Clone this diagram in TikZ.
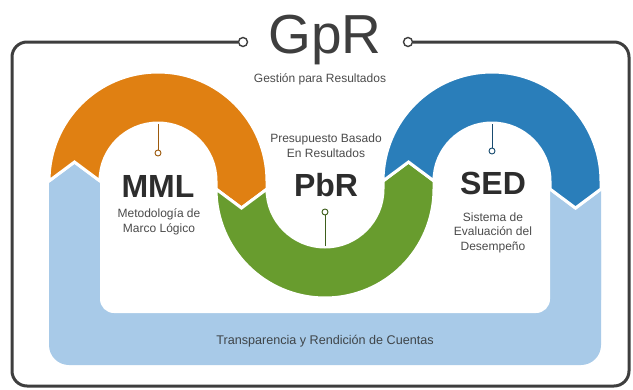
\documentclass[tikz,border=0pt]{standalone}
\usepackage{fontspec}
\setmainfont{Liberation Sans}
\definecolor{mmlorange}{RGB}{224,128,18}
\definecolor{pbrgreen}{RGB}{104,156,46}
\definecolor{sedblue}{RGB}{42,126,186}
\definecolor{bandblue}{RGB}{168,202,232}
\definecolor{framegray}{RGB}{62,62,62}
\definecolor{textgray}{RGB}{45,45,45}
\definecolor{subgray}{RGB}{75,75,75}
\begin{document}
\begin{tikzpicture}[x=1pt,y=-1pt,
    segment/.style={draw=white,line width=3pt,line join=miter},
    frame/.style={draw=framegray,line width=3pt},
    ring/.style={circle,draw=framegray,fill=white,line width=1.4pt,minimum size=9pt,inner sep=0pt},
    dot/.style={circle,draw,fill=white,line width=0.9pt,minimum size=6pt,inner sep=0pt},
    pin/.style={line width=1pt},
    big/.style={font=\fontsize{32}{32}\selectfont\bfseries,text=textgray,inner sep=0pt,anchor=base},
    small/.style={font=\fontsize{12}{12}\selectfont,text=subgray,inner sep=0pt,anchor=base}]
    \useasboundingbox (0,0) rectangle (633,389);

    % outer frame with title
    \node[font=\fontsize{55}{55}\selectfont,text=framegray,inner sep=0pt,anchor=base] (gpr) at (325,53) {GpR};
    \node[small] (gprsub) at (320,82) {Gestión para Resultados};
    \node[ring] (lring) at (243,42) {};
    \node[ring] (rring) at (408,42) {};
    \draw[frame,rounded corners=15] (lring.west) -- (12,42) -- (12,386) -- (629,386) -- (629,42) -- (rring.east);

    % light blue band
    \fill[bandblue] (49,181) -- (74.5,162) -- (100,181) -- (550,189) -- (575.5,208) -- (601,189) -- (601,300) -- (49,300) -- cycle;
    \fill[bandblue,rounded corners=20] (49,220) rectangle (601,365);
    \fill[white,rounded corners=14] (100,100) rectangle (550,313);
    \draw[white,line width=3pt] (49,181) -- (74.5,162) -- (100,181);
    \draw[white,line width=3pt] (550,189) -- (575.5,208) -- (601,189);
    \node[small,font=\fontsize{12.6}{12.6}\selectfont,text=textgray!85!bandblue] (trc) at (325,344) {Transparencia y Rendición de Cuentas};

    % MML arc
    \filldraw[segment,fill=mmlorange] (49,181) arc[start angle=180,end angle=360,radius=109]
        -- (267,189) -- (241.5,208) -- (216,189) -- (216,181)
        arc[start angle=0,end angle=-180,radius=58] -- (74.5,162) -- cycle;
    % PbR arc
    \filldraw[segment,fill=pbrgreen] (216,189) -- (241.5,208) -- (267,189)
        arc[start angle=180,end angle=0,radius=58]
        -- (383,181) -- (408.5,162) -- (434,181) -- (434,189)
        arc[start angle=0,end angle=180,radius=109] -- cycle;
    % SED arc
    \filldraw[segment,fill=sedblue] (383,181) arc[start angle=180,end angle=360,radius=109]
        -- (601,189) -- (575.5,208) -- (550,189) -- (550,181)
        arc[start angle=0,end angle=-180,radius=58] -- (408.5,162) -- cycle;

    % pins
    \coordinate (mmltop) at (158,124);
    \coordinate (pbrbot) at (325,246);
    \coordinate (sedtop) at (492,124);
    \node[dot,draw=mmlorange!70!black] (mmldot) at (158,153) {};
    \node[dot,draw=pbrgreen!60!black] (pbrdot) at (325,212) {};
    \node[dot,draw=sedblue!60!black] (seddot) at (492,151) {};
    \draw[pin,mmlorange!70!black] (mmltop) -- (mmldot);
    \draw[pin,pbrgreen!60!black] (pbrbot) -- (pbrdot);
    \draw[pin,sedblue!60!black] (sedtop) -- (seddot);

    % labels
    \node[big] (mml) at (158,197) {MML};
    \node[small] (mml1) at (159,217) {Metodología de};
    \node[small] (mml2) at (159,232) {Marco Lógico};
    \node[big] (pbr) at (326,196) {PbR};
    \node[small] (pbr1) at (326,142) {Presupuesto Basado};
    \node[small] (pbr2) at (326,157) {En Resultados};
    \node[big] (sed) at (493,194) {SED};
    \node[small] (sed1) at (493,221) {Sistema de};
    \node[small] (sed2) at (493,235) {Evaluación del};
    \node[small] (sed3) at (493,250) {Desempeño};
\end{tikzpicture}
\end{document}
